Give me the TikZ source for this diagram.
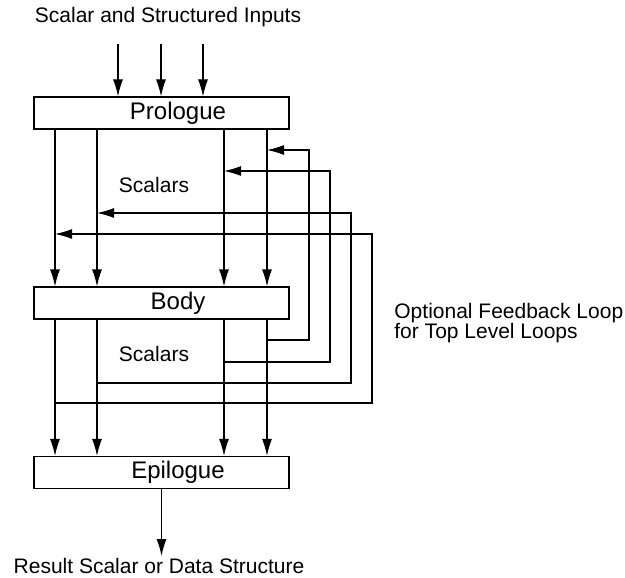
\documentclass[tikz,border=0pt]{standalone}
\usepackage{fontspec}
\setmainfont{Liberation Sans}
\usetikzlibrary{arrows.meta}
\tikzset{
    stagebox/.style={draw, line width=0.6pt, minimum width=127.5pt, minimum height=16pt, inner sep=0pt},
    stagetext/.style={font=\fontsize{10.5}{10}\selectfont, inner sep=1pt},
    stagename/.style={font=\fontsize{12}{12}\selectfont, inner sep=0pt, xshift=8.25pt},
    flow/.style={line width=0.6pt, -{Latex[length=8.5pt, width=5pt]}},
    wire/.style={line width=0.6pt}
}

\begin{document}
\begin{tikzpicture}[x=0.5pt, y=-0.5pt]
            \useasboundingbox (0,0) rectangle (625,577);
            \node[stagetext]                        (inputs)   at (168, 17)  {Scalar and Structured Inputs};
            \node[stagebox, label={[stagename]center:Prologue}] (prologue) at (161.5,113) {};
            \node[stagebox, label={[stagename]center:Body}]     (body)     at (161.5,303) {};
            \node[stagebox, label={[stagename]center:Epilogue}] (epilogue) at (161.5,472.5) {};
            \node[stagetext]                        (scalarsA) at (154,185)  {Scalars};
            \node[stagetext]                        (scalarsB) at (154,354)  {Scalars};
            \node[stagetext, anchor=west, align=left] (feedback) at (392,323) {Optional Feedback Loop\\for Top Level Loops};
            \node[stagetext, anchor=north]          (result)   at (159,556)  {Result Scalar or Data Structure};

            \foreach \n/\x in {1/118, 2/161, 3/203}
                \coordinate (in\n) at (\x,44);
            \foreach \n/\x in {1/55, 2/97, 3/224, 4/267}
                \coordinate (col\n) at (\x,0);
            \foreach \n/\r/\top/\bot in {4/309/150/340, 3/330/171/362, 2/351/213/383, 1/372/234/403}{
                \coordinate (up\n)   at (\r,\top);
                \coordinate (down\n) at (\r,\bot);
            }

            \foreach \n in {1,2,3}
                \draw[flow] (in\n) -- (prologue.north -| in\n);
            \foreach \n in {1,...,4}{
                \draw[flow] (prologue.south -| col\n) -- (body.north -| col\n);
                \draw[flow] (body.south -| col\n) -- (epilogue.north -| col\n);
                \draw[flow] (down\n -| col\n) -- (down\n) -- (up\n) -- (up\n -| col\n);
            }
            \draw[flow] (epilogue.south) -- (result.north -| epilogue.south);
        \end{tikzpicture}
\end{document}
